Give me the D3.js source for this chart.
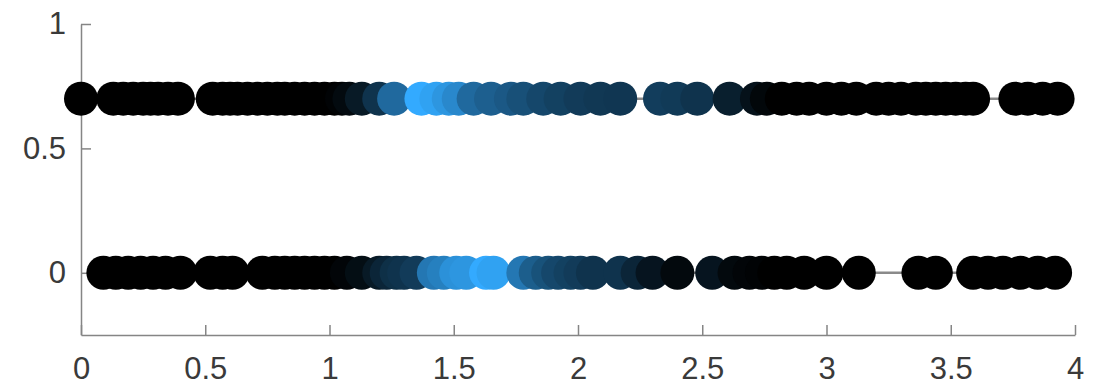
<!DOCTYPE html>
<html lang="en">
<head>
  <meta charset="UTF-8">
  <title>Two rows of markers</title>
  <script src="https://d3js.org/d3.v7.min.js"></script>
  <style>
    body { margin: 0; background: #fff; font-family: "Liberation Sans", Arial, sans-serif; }
    .axis text { font-size: 31px; fill: #3a3a3a; }
    .axis path, .axis line { stroke: #858585; stroke-width: 1.5; }
  </style>
</head>
<body>
  <div id="chart"></div>
  <script>
    // Row at y = 0.7: x positions and colour intensity (0 = black, 1 = light blue)
    const topX = [0, 0.13, 0.17, 0.21, 0.25, 0.28, 0.31, 0.35, 0.39, 0.53, 0.57, 0.6, 0.63, 0.67, 0.71,
      0.75, 0.79, 0.82, 0.86, 0.9, 0.94, 0.98, 1.02, 1.05, 1.08, 1.13, 1.2, 1.26, 1.37, 1.43, 1.48, 1.52,
      1.58, 1.65, 1.73, 1.78, 1.86, 1.93, 2.01, 2.09, 2.17, 2.33, 2.4, 2.48, 2.61, 2.72, 2.76, 2.82, 2.88,
      2.93, 3.0, 3.06, 3.12, 3.2, 3.25, 3.3, 3.36, 3.4, 3.44, 3.48, 3.52, 3.56, 3.59, 3.76, 3.81, 3.87, 3.93];
    const topT = [0, 0, 0, 0, 0, 0, 0, 0, 0, 0, 0, 0, 0, 0, 0,
      0, 0, 0, 0, 0, 0, 0, 0, 0.02, 0.06, 0.15, 0.3, 0.62, 1.0, 0.95, 0.88, 0.8,
      0.62, 0.56, 0.52, 0.47, 0.42, 0.38, 0.35, 0.33, 0.32, 0.36, 0.34, 0.3, 0.18, 0.1, 0.04, 0, 0,
      0, 0, 0, 0, 0, 0, 0, 0, 0, 0, 0, 0, 0, 0, 0, 0, 0, 0];

    // Row at y = 0
    const botX = [0.09, 0.14, 0.19, 0.24, 0.29, 0.34, 0.4, 0.52, 0.57, 0.61, 0.73, 0.78, 0.82, 0.86,
      0.9, 0.94, 0.98, 1.02, 1.07, 1.13, 1.2, 1.23, 1.27, 1.3, 1.35, 1.42, 1.46, 1.51, 1.55, 1.63, 1.66,
      1.78, 1.83, 1.88, 1.92, 1.97, 2.01, 2.06, 2.17, 2.24, 2.3, 2.4, 2.54, 2.63, 2.69, 2.74, 2.79, 2.84,
      2.91, 3.0, 3.13, 3.37, 3.44, 3.59, 3.65, 3.71, 3.78, 3.85, 3.92];
    const botT = [0, 0, 0, 0, 0, 0, 0, 0, 0, 0, 0, 0, 0, 0,
      0, 0, 0, 0, 0.03, 0.08, 0.15, 0.22, 0.28, 0.3, 0.35, 0.7, 0.75, 0.85, 0.88, 1.0, 0.95,
      0.7, 0.55, 0.48, 0.42, 0.38, 0.35, 0.3, 0.3, 0.22, 0.12, 0.05, 0.12, 0.05, 0.03, 0.02, 0, 0,
      0, 0, 0, 0, 0, 0, 0, 0, 0, 0, 0];

    const rowY = [0.7, 0];
    const xTicks = [0, 0.5, 1, 1.5, 2, 2.5, 3, 3.5, 4];
    const yTicks = [0, 0.5, 1];

    const width = 1095, height = 391;
    const x = d3.scaleLinear().domain([0, 4]).range([81, 1075]);
    const y = d3.scaleLinear().domain([-0.25, 1]).range([335, 24]);
    const colour = d3.interpolateRgb("#000000", "#33aaff");

    const svg = d3.select("#chart").append("svg")
      .attr("width", width)
      .attr("height", height);

    // axes (ticks point inward, MATLAB style)
    svg.append("g")
      .attr("class", "axis")
      .attr("transform", `translate(0,${y(-0.25)})`)
      .call(d3.axisBottom(x).tickValues(xTicks).tickFormat(d3.format("")).tickSizeInner(-10).tickSizeOuter(0).tickPadding(22));

    svg.append("g")
      .attr("class", "axis")
      .attr("transform", `translate(${x(0)},0)`)
      .call(d3.axisLeft(y).tickValues(yTicks).tickFormat(d3.format("")).tickSizeInner(-10).tickSizeOuter(0).tickPadding(15));

    const rows = [
      { y: rowY[0], pts: topX.map((v, i) => ({ x: v, t: topT[i] })) },
      { y: rowY[1], pts: botX.map((v, i) => ({ x: v, t: botT[i] })) }
    ];

    const line = d3.line().x(d => x(d.x)).y(d => y(d.y));

    rows.forEach(r => {
      const pts = r.pts.map(p => ({ x: p.x, y: r.y, t: p.t }));
      svg.append("path")
        .datum(pts)
        .attr("d", line)
        .style("fill", "none")
        .style("stroke", "#8a8a8a")
        .style("stroke-width", 2.5);

      svg.append("g").selectAll("circle")
        .data(pts)
        .enter()
        .append("circle")
        .attr("cx", d => x(d.x))
        .attr("cy", d => y(d.y))
        .attr("r", 17)
        .style("fill", d => colour(d.t));
    });
  </script>
</body>
</html>
